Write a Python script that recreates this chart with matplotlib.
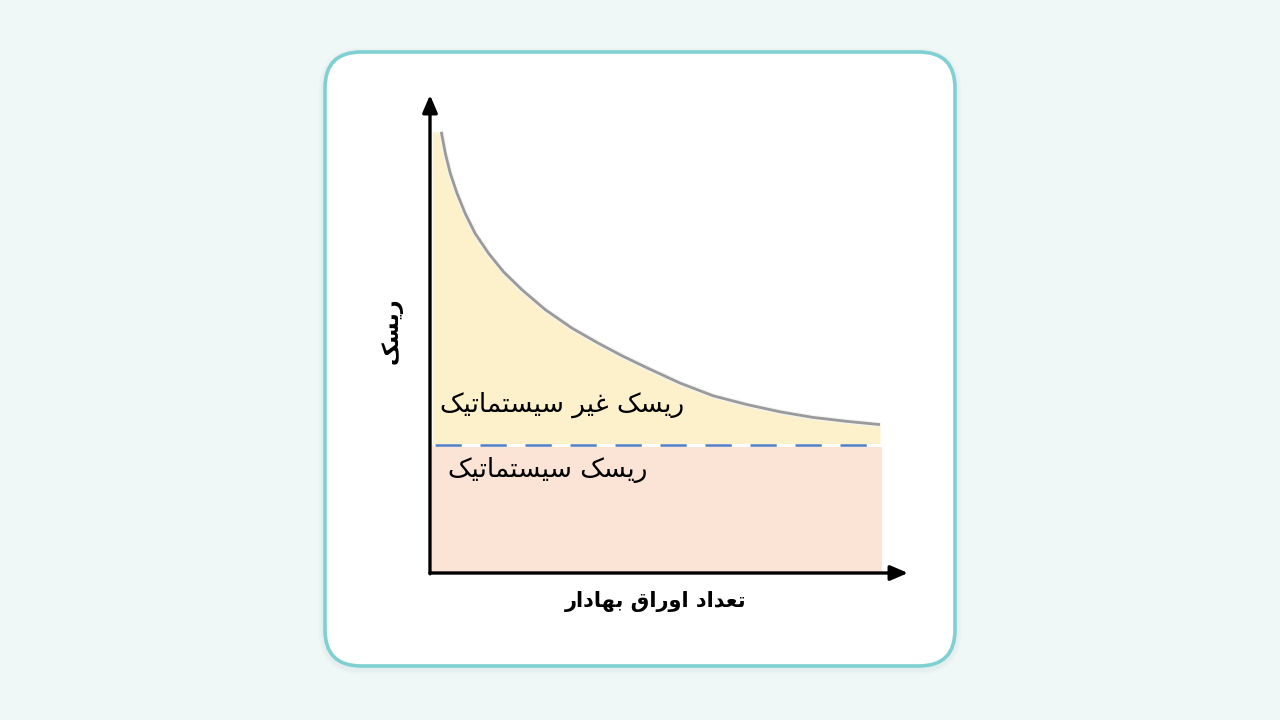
import numpy as np
import matplotlib
matplotlib.use("Agg")
import matplotlib.pyplot as plt
import matplotlib.patheffects as pe
from matplotlib.patches import FancyBboxPatch

# curve: number of securities vs total risk
securities = [0.25, 0.34, 0.45, 0.60, 0.78, 1.00, 1.30, 1.63, 2.04, 2.56,
              3.15, 3.74, 4.26, 4.81, 5.54, 6.28, 7.03, 7.76, 8.49, 9.25, 9.98]
total_risk = [11.03, 10.49, 9.99, 9.49, 8.99, 8.49, 7.99, 7.53, 7.08, 6.58,
              6.12, 5.74, 5.43, 5.13, 4.75, 4.43, 4.21, 4.03, 3.89, 3.79, 3.71]
systematic_risk = 3.2

label_unsys = "ریسک غیر سیستماتیک"
label_sys = "ریسک سیستماتیک"
label_x = "تعداد اوراق بهادار"
label_y = "ریسک"

# minimal persian shaping (matplotlib has no bidi / joining support)
FORMS = {
    'ا': ('\uFE8D', '\uFE8E', None, None),
    'ب': ('\uFE8F', '\uFE90', '\uFE91', '\uFE92'),
    'ت': ('\uFE95', '\uFE96', '\uFE97', '\uFE98'),
    'د': ('\uFEA9', '\uFEAA', None, None),
    'ر': ('\uFEAD', '\uFEAE', None, None),
    'س': ('\uFEB1', '\uFEB2', '\uFEB3', '\uFEB4'),
    'ع': ('\uFEC9', '\uFECA', '\uFECB', '\uFECC'),
    'غ': ('\uFECD', '\uFECE', '\uFECF', '\uFED0'),
    'ق': ('\uFED5', '\uFED6', '\uFED7', '\uFED8'),
    'م': ('\uFEE1', '\uFEE2', '\uFEE3', '\uFEE4'),
    'ه': ('\uFEE9', '\uFEEA', '\uFEEB', '\uFEEC'),
    'و': ('\uFEED', '\uFEEE', None, None),
    'ی': ('\uFBFC', '\uFBFD', '\uFBFE', '\uFBFF'),
    'ک': ('\uFB8E', '\uFB8F', '\uFB90', '\uFB91'),
}


def shape(text):
    out = []
    for i, ch in enumerate(text):
        if ch not in FORMS:
            out.append(ch)
            continue
        prev = text[i - 1] if i > 0 else ''
        nxt = text[i + 1] if i + 1 < len(text) else ''
        join_prev = prev in FORMS and FORMS[prev][2] is not None
        join_next = nxt in FORMS and FORMS[ch][2] is not None
        iso, fin, ini, med = FORMS[ch]
        if join_prev and join_next:
            out.append(med)
        elif join_prev:
            out.append(fin)
        elif join_next:
            out.append(ini)
        else:
            out.append(iso)
    return ''.join(reversed(out))


plt.rcParams['font.family'] = ['DejaVu Sans']

fig = plt.figure(figsize=(12.8, 7.2), dpi=100, facecolor='#eff7f7')

# card in pixel coords
bg = fig.add_axes([0, 0, 1, 1])
bg.set_xlim(0, 1280)
bg.set_ylim(720, 0)
bg.axis('off')
for lw, a in [(9, 0.04), (6, 0.05)]:
    bg.add_patch(FancyBboxPatch((325, 54), 630, 614, boxstyle="round,pad=0,rounding_size=36",
                                fc='none', ec='#9aa5a5', lw=lw, alpha=a))
bg.add_patch(FancyBboxPatch((325, 52), 630, 614, boxstyle="round,pad=0,rounding_size=36",
                            fc='white', ec='#7fd0d2', lw=2.6))

ax = fig.add_axes([430 / 1280, (720 - 573) / 720, 478 / 1280, 478 / 720])
ax.set_xlim(0, 10.6)
ax.set_ylim(0, 11.95)
ax.axis('off')

x = np.array(securities)
y = np.array(total_risk)

ax.fill_between([0.05, x[-1] + 0.05], 0, systematic_risk, color='#fbe3d6', lw=0)
ax.fill_between(np.r_[0.05, x], systematic_risk, np.r_[y[0], y], color='#fdf1cb', lw=0)
ax.plot(x, y, color='#9a9a9a', lw=2.0, solid_capstyle='butt', solid_joinstyle='round',
        path_effects=[pe.Stroke(linewidth=3.6, foreground='#f4f4f4'), pe.Normal()])

ax.plot([0.1, x[-1] + 0.05], [systematic_risk] * 2, color='white', lw=2.2)
ax.plot([0.1, x[-1] + 0.05], [systematic_risk] * 2, color='#4f7fc6', lw=1.8,
        dashes=(10.5, 7.5))

arrow = dict(arrowstyle='-|>,head_length=0.7,head_width=0.3', lw=2.4, color='black',
             shrinkA=0, shrinkB=0, mutation_scale=15)
ax.annotate('', xy=(10.6, 0), xytext=(0, 0), arrowprops=arrow, annotation_clip=False)
ax.annotate('', xy=(0, 11.95), xytext=(0, -0.02), arrowprops=arrow, annotation_clip=False)

ax.text(2.92, 4.2, shape(label_unsys), fontsize=19, ha='center', va='center')
ax.text(2.62, 2.57, shape(label_sys), fontsize=19, ha='center', va='center')
ax.text(5.0, -0.72, shape(label_x), fontsize=15, fontweight='bold', ha='center', va='center')
ax.text(-0.84, 6.05, shape(label_y), fontsize=16, fontweight='bold', ha='center', va='center',
        rotation=90)

fig.savefig('out.png', dpi=100, facecolor=fig.get_facecolor())
